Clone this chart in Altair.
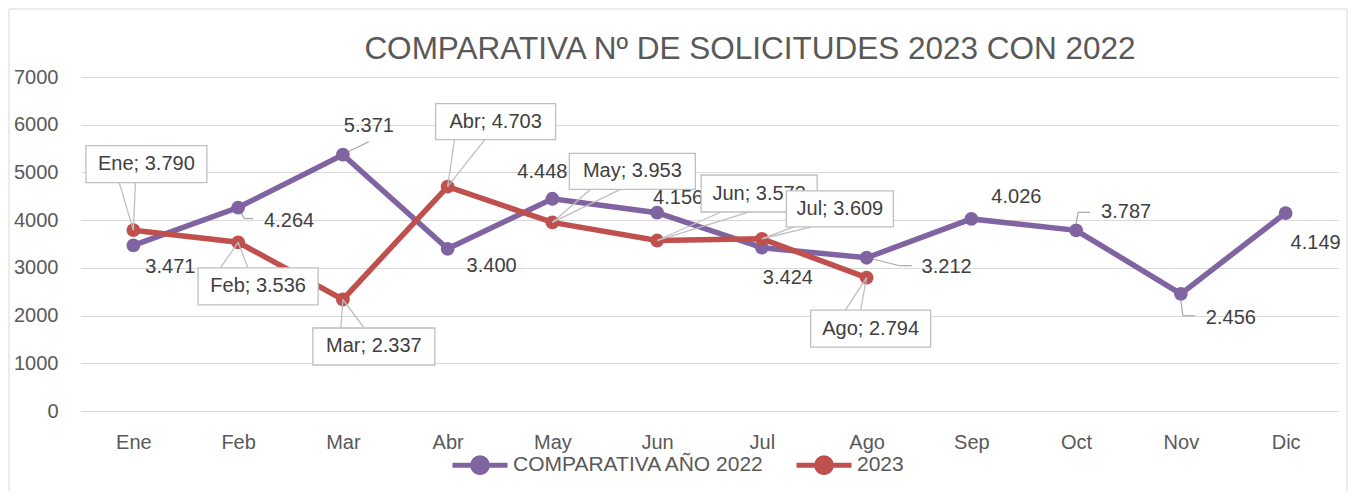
import altair as alt
import pandas as pd

# ---------------- data ----------------
months = ["Ene", "Feb", "Mar", "Abr", "May", "Jun", "Jul", "Ago", "Sep", "Oct", "Nov", "Dic"]
values_2022 = [3471, 4264, 5371, 3400, 4448, 4156, 3424, 3212, 4026, 3787, 2456, 4149]
months_2023 = ["Ene", "Feb", "Mar", "Abr", "May", "Jun", "Jul", "Ago"]
values_2023 = [3790, 3536, 2337, 4703, 3953, 3573, 3609, 2794]
y_ticks = [0, 1000, 2000, 3000, 4000, 5000, 6000, 7000]
series_names = ["COMPARATIVA AÑO 2022", "2023"]
title_text = "COMPARATIVA Nº DE SOLICITUDES 2023 CON 2022"

# ---------------- styling / annotation placement (pixels) ----------------
PURPLE = "#8064A2"
RED = "#C0504D"
GRID = "#D9D9D9"
AXIS_TXT = "#595959"
LBL_TXT = "#404040"
LEADER = "#A6A6A6"
BOX_STROKE = "#BFBFBF"
FONT = "Liberation Sans"
W, H = 1257, 334

# 2022 plain labels: text centre offset from point
lab22_off = [(37, 22), (51, 13), (26, -29), (44, 17), (-10, -27), (21, -15),
             (26, 30), (80, 9), (45, -22), (50, -18), (50, 24), (30, 30)]
# 2022 leader polylines (offsets from point)
leaders22 = {
    1: [(3, 5), (6, 11), (15, 11)],
    2: [(5, -3), (26, -13)],
    7: [(5, 1), (33, 8), (45, 8)],
    9: [(0, -7), (2, -18), (14, -18)],
    10: [(0, 7), (2, 22), (14, 22)],
}
# 2023 callout boxes: centre dx, dy, width, height, wedge base x-left, x-right, wedge base y
box23 = [
    (13, -66, 121, 37, -14, 2, -47),
    (20, 44, 120, 37, -18, 10, 26),
    (31, 47, 122, 37, -2, 21, 28),
    (48, -65, 120, 36, 7, 38, -48),
    (80, -51, 126, 36, 38, 68, -33),
    (102, -47, 116, 37, 65, 93, -29),
    (78, -30, 107, 36, 32, 50, -12),
    (4, 51, 120, 37, -21, -6, 32),
]


def fmt(v):
    return f"{v:,}".replace(",", ".")


x_enc = alt.X(
    "month:N",
    sort=months,
    scale=alt.Scale(type="point", domain=months, padding=0.5),
    axis=alt.Axis(title=None, ticks=False, domain=False, grid=False,
                  labelFontSize=20, labelColor=AXIS_TXT, labelFont=FONT,
                  labelPadding=21, labelAngle=0),
)
y_enc = alt.Y(
    "value:Q",
    scale=alt.Scale(domain=[0, 7000], nice=False, zero=True),
    axis=alt.Axis(title=None, ticks=False, domain=False, values=y_ticks, format="d",
                  gridColor=GRID, gridWidth=1, labelFontSize=20,
                  labelColor=AXIS_TXT, labelFont=FONT, labelPadding=23),
)

df_lines = pd.DataFrame(
    {"month": months + months_2023,
     "value": values_2022 + values_2023,
     "serie": [series_names[0]] * len(months) + [series_names[1]] * len(months_2023)}
)

color_enc = alt.Color(
    "serie:N",
    scale=alt.Scale(domain=series_names, range=[PURPLE, RED]),
    legend=alt.Legend(
        title=None, orient="none", legendX=369, legendY=358, direction="horizontal",
        symbolType="M-1,0L1,0M-0.27,0A0.27,0.27,0,1,1,0.27,0A0.27,0.27,0,1,1,-0.27,0Z",
        symbolSize=3025, symbolStrokeWidth=5, labelFontSize=21, labelColor=AXIS_TXT,
        labelFont=FONT, labelLimit=500, columnPadding=20, labelOffset=3,
    ),
)

layers = []

# chart frame
layers.append(
    alt.Chart(pd.DataFrame({"a": [0]})).mark_rect(fill="transparent", stroke=GRID, strokeWidth=1).encode(
        x=alt.value(-72), x2=alt.value(1266), y=alt.value(-68), y2=alt.value(420)
    )
)

# title
layers.append(
    alt.Chart(pd.DataFrame({"t": [title_text]})).mark_text(
        font=FONT, fontSize=31.5, color=AXIS_TXT, align="center",
        baseline="middle").encode(x=alt.value(669), y=alt.value(-27), text="t:N")
)

# 2022 leader lines
for i, pts in leaders22.items():
    d = pd.DataFrame({"month": [months[i]], "value": [values_2022[i]]})
    for (x1, y1), (x2, y2) in zip(pts[:-1], pts[1:]):
        layers.append(
            alt.Chart(d).mark_rule(color=LEADER, strokeWidth=1.2,
                                   xOffset=x1, yOffset=y1, x2Offset=x2, y2Offset=y2).encode(
                x=x_enc, y=y_enc, x2="month:N", y2="value:Q")
        )

# 2022 labels
for i, (m, v) in enumerate(zip(months, values_2022)):
    dx, dy = lab22_off[i]
    d = pd.DataFrame({"month": [m], "value": [v], "label": [fmt(v)]})
    layers.append(
        alt.Chart(d).mark_text(dx=dx, dy=dy, fontSize=20, font=FONT, color=LBL_TXT,
                               align="center", baseline="middle").encode(
            x=x_enc, y=y_enc, text="label:N")
    )

# lines and points
layers.append(
    alt.Chart(df_lines).mark_line(strokeWidth=5.5).encode(x=x_enc, y=y_enc, color=color_enc)
)
layers.append(
    alt.Chart(df_lines).mark_point(filled=True, size=190, opacity=1).encode(
        x=x_enc, y=y_enc, color=color_enc)
)

# 2023 callouts: wedges, boxes, texts
for i, (m, v) in enumerate(zip(months_2023, values_2023)):
    bx, by, bw, bh, wl, wr, wy = box23[i]
    d = pd.DataFrame({"month": [m], "value": [v]})
    for wx in (wl, wr):
        layers.append(
            alt.Chart(d).mark_rule(color=BOX_STROKE, strokeWidth=1.3,
                                   xOffset=0, yOffset=0, x2Offset=wx, y2Offset=wy).encode(
                x=x_enc, y=y_enc, x2="month:N", y2="value:Q")
        )
for i, (m, v) in enumerate(zip(months_2023, values_2023)):
    bx, by, bw, bh, wl, wr, wy = box23[i]
    d = pd.DataFrame({"month": [m], "value": [v], "label": [f"{m}; {fmt(v)}"]})
    layers.append(
        alt.Chart(d).mark_rect(width=bw, height=bh, xOffset=bx, yOffset=by,
                               fill="white", stroke=BOX_STROKE, strokeWidth=1.3).encode(
            x=x_enc, y=y_enc)
    )
    layers.append(
        alt.Chart(d).mark_text(dx=bx, dy=by, fontSize=20, font=FONT, color=LBL_TXT,
                               align="center", baseline="middle").encode(
            x=x_enc, y=y_enc, text="label:N")
    )

chart = alt.layer(*layers).properties(
    width=W, height=H,
    background="white",
    autosize=alt.AutoSizeParams(type="none"),
    padding={"left": 73, "top": 69, "right": 11, "bottom": 80},
).configure_view(stroke="transparent", strokeWidth=0)

chart.save("out.html", embed_options={"renderer": "svg", "actions": False})
